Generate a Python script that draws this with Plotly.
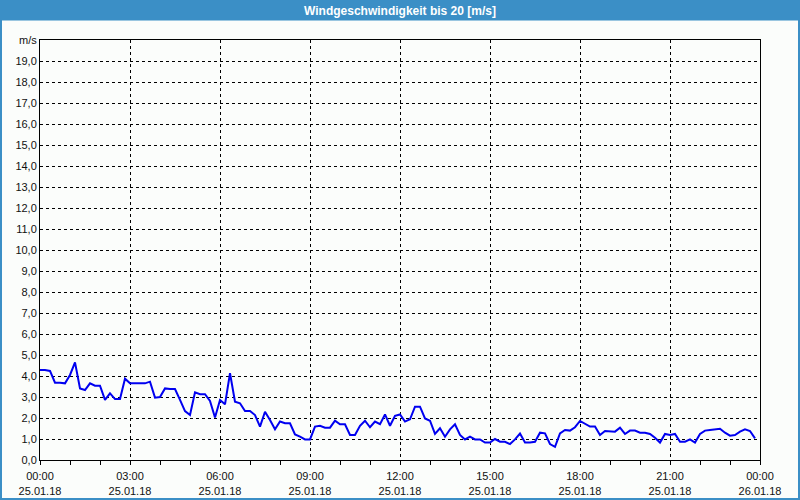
import plotly.graph_objects as go
import pandas as pd

# Wind speed [m/s], 10-minute samples starting 25.01.18 00:00
wind = [
    4.29, 4.29, 4.24, 3.68, 3.68, 3.65, 4.05, 4.65, 3.41, 3.33,
    3.65, 3.54, 3.54, 2.86, 3.17, 2.90, 2.90, 3.87, 3.65, 3.65,
    3.65, 3.65, 3.73, 2.97, 3.00, 3.41, 3.38, 3.38, 2.86, 2.33,
    2.14, 3.22, 3.13, 3.13, 2.81, 2.02, 2.86, 2.65, 4.13, 2.78,
    2.70, 2.33, 2.33, 2.14, 1.59, 2.30, 1.90, 1.46, 1.83, 1.75,
    1.75, 1.22, 1.11, 0.98, 0.98, 1.59, 1.63, 1.54, 1.54, 1.87,
    1.70, 1.70, 1.19, 1.19, 1.63, 1.87, 1.56, 1.83, 1.71, 2.17,
    1.63, 2.10, 2.17, 1.83, 1.94, 2.54, 2.54, 1.98, 1.87, 1.24,
    1.51, 1.11, 1.46, 1.70, 1.19, 0.98, 1.11, 0.98, 0.98, 0.83,
    0.83, 1.00, 0.87, 0.87, 0.76, 0.98, 1.26, 0.83, 0.83, 0.87,
    1.30, 1.27, 0.76, 0.63, 1.27, 1.43, 1.40, 1.56, 1.86, 1.71,
    1.59, 1.59, 1.19, 1.38, 1.35, 1.35, 1.54, 1.24, 1.40, 1.40,
    1.30, 1.30, 1.24, 1.06, 0.83, 1.24, 1.19, 1.24, 0.87, 0.87,
    0.98, 0.83, 1.24, 1.40, 1.43, 1.46, 1.49, 1.30, 1.16, 1.19,
    1.35, 1.46, 1.38, 1.03,
]
times = pd.date_range("2018-01-25 00:00", periods=len(wind), freq="10min")

x_tick_vals = pd.date_range("2018-01-25 00:00", "2018-01-26 00:00", freq="3h")
x_tick_text = ["00:00<br>25.01.18", "03:00<br>25.01.18", "06:00<br>25.01.18",
               "09:00<br>25.01.18", "12:00<br>25.01.18", "15:00<br>25.01.18",
               "18:00<br>25.01.18", "21:00<br>25.01.18", "00:00<br>26.01.18"]
y_tick_vals = list(range(0, 21))
y_tick_text = [f"{v},0" for v in range(0, 20)] + ["m/s"]

title_text = "Windgeschwindigkeit bis 20 [m/s]"

W, H = 800, 500
ML, MR, MT, MB = 40, 40, 40, 40
PW, PH = W - ML - MR, H - MT - MB
def px(x):
    return (x - ML) / PW
def py(y):
    return (H - MB - y) / PH

BLUE = "#3b8fc6"
BG = "#fbfdfb"
FONT = "Liberation Sans"

fig = go.Figure()
fig.add_trace(go.Scatter(x=times, y=wind, mode="lines",
                         line=dict(color="#0000f0", width=2),
                         hoverinfo="skip", showlegend=False))

fig.update_layout(
    width=W, height=H, autosize=False,
    margin=dict(l=ML, r=MR, t=MT, b=MB, pad=0, autoexpand=False),
    paper_bgcolor=BG, plot_bgcolor=BG,
    font=dict(family=FONT, size=11, color="#111111"),
    showlegend=False,
    xaxis=dict(
        type="date", automargin=False,
        range=["2018-01-25 00:00", "2018-01-26 00:00"],
        tickvals=list(x_tick_vals), ticktext=x_tick_text,
        showgrid=True, gridcolor="black", griddash="3px,3px", gridwidth=1,
        showline=True, linecolor="black", linewidth=1, mirror=True,
        ticks="outside", ticklen=4, tickcolor="black", ticklabelstandoff=2,
        minor=dict(dtick=3600000, ticks="outside", ticklen=4, tickcolor="black", showgrid=False),
        zeroline=False, fixedrange=True,
    ),
    yaxis=dict(
        range=[0, 20], automargin=False,
        tickvals=y_tick_vals, ticktext=y_tick_text,
        showgrid=True, gridcolor="black", griddash="3px,3px", gridwidth=1,
        showline=True, linecolor="black", linewidth=1, mirror=True,
        ticks="", zeroline=False, fixedrange=True,
    ),
    shapes=[
        dict(type="rect", xref="paper", yref="paper",
             x0=px(0), x1=px(W), y0=py(0), y1=py(20.5),
             fillcolor=BLUE, line=dict(width=0), layer="above"),
        dict(type="rect", xref="paper", yref="paper",
             x0=px(1), x1=px(W - 1), y0=py(H - 1), y1=py(10),
             fillcolor="rgba(0,0,0,0)", line=dict(color=BLUE, width=2), layer="above"),
    ],
    annotations=[
        dict(text=f"<b>{title_text}</b>", xref="paper", yref="paper",
             x=px(W / 2), y=py(10.5), xanchor="center", yanchor="middle",
             showarrow=False, font=dict(family=FONT, size=12, color="white")),
    ],
)

fig.write_html("out.html")
